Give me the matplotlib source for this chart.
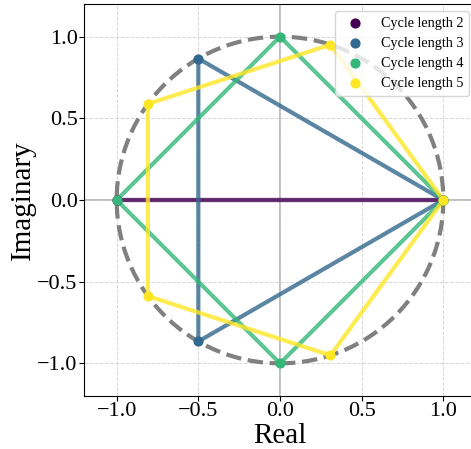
import numpy as np
import matplotlib.pyplot as plt
from matplotlib.patches import Circle

plt.rcParams['font.family'] = ['Liberation Serif', 'DejaVu Serif']
plt.rcParams['mathtext.fontset'] = 'stix'

# vertices of each cycle (real, imaginary)
cycle_lengths = [2, 3, 4, 5]
real_parts = [
    [1.0, -1.0],
    [1.0, -0.5, -0.5],
    [1.0, 0.0, -1.0, 0.0],
    [1.0, 0.309, -0.809, -0.809, 0.309],
]
imag_parts = [
    [0.0, 0.0],
    [0.0, 0.866, -0.866],
    [0.0, 1.0, 0.0, -1.0],
    [0.0, 0.951, 0.588, -0.588, -0.951],
]
colors = ['#440154', '#31688e', '#35b779', '#fde725']

fig = plt.figure(figsize=(4.71, 4.49), dpi=100)
# axes run a little past the right edge of the saved picture
ax = fig.add_axes([84 / 471, 53 / 449, 392 / 471, 392 / 449])

ax.grid(ls='--', color='#cccccc', lw=0.7, alpha=0.8)
ax.axhline(0, color='gray', lw=1.2, alpha=0.6, zorder=1)
ax.axvline(0, color='gray', lw=1.2, alpha=0.6, zorder=1)

circ = Circle((0, 0), 1.0, fill=False, ls='--', lw=3, color='gray', zorder=2)
ax.add_patch(circ)

for n, xs, ys, c in zip(cycle_lengths, real_parts, imag_parts, colors):
    xs_closed = xs + [xs[0]]
    ys_closed = ys + [ys[0]]
    ax.plot(xs_closed, ys_closed, color=c, lw=3, alpha=0.8, zorder=3)
    ax.scatter(xs, ys, color=c, s=40, zorder=4, label=f'Cycle length {n}')

ax.set_xlim(-1.2, 1.2)
ax.set_ylim(-1.2, 1.2)
ax.set_xticks([-1.0, -0.5, 0.0, 0.5, 1.0])
ax.set_yticks([-1.0, -0.5, 0.0, 0.5, 1.0])
ax.tick_params(labelsize=16, pad=1)
ax.set_xlabel('Real', fontsize=21, labelpad=1)
ax.set_ylabel('Imaginary', fontsize=21, labelpad=1)
ax.legend(loc='upper right', fontsize=10.2)

fig.savefig('out.png', dpi=100)
